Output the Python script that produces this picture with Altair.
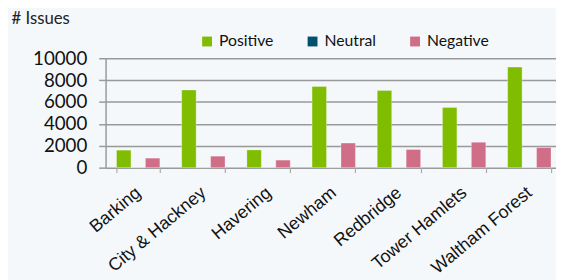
import altair as alt
import pandas as pd

categories = ["Barking", "City & Hackney", "Havering", "Newham", "Redbridge", "Tower Hamlets", "Waltham Forest"]
series = ["Positive", "Neutral", "Negative"]
positive = [1600, 7100, 1620, 7420, 7060, 5500, 9190]
neutral = [0, 0, 0, 0, 0, 0, 0]
negative = [870, 1050, 690, 2250, 1660, 2320, 1840]
colors = ["#80BC00", "#00506E", "#D06E88"]
y_ticks = [0, 2000, 4000, 6000, 8000, 10000]

rows = []
for s, vals in zip(series, [positive, neutral, negative]):
    for c, v in zip(categories, vals):
        rows.append({"Area": c, "Sentiment": s, "Issues": v})
df = pd.DataFrame(rows)

W = 457
STEP_RANGE = 463
H = 111

chart = alt.Chart(df).mark_bar(
    stroke="#ffffff", strokeWidth=0.6, strokeOpacity=0.5
).encode(
    x=alt.X(
        "Area:N",
        sort=categories,
        scale=alt.Scale(range=[0, STEP_RANGE], paddingInner=0.335, paddingOuter=0.1675),
        axis=alt.Axis(
            title=None,
            tickBand="extent",
            labelAngle=-40,
            labelAlign="right",
            labelBaseline="middle",
            labelFont="Liberation Sans",
            labelFontSize=18,
            labelColor="#111111",
            labelOverlap=False,
            labelBound=False,
            labelPadding=18,
            domain=False,
            ticks=True,
            tickSize=5,
            tickColor="#aaaaaa",
            tickWidth=1.2,
            grid=False,
        ),
    ),
    xOffset=alt.XOffset("Sentiment:N", sort=series, scale=alt.Scale(paddingInner=0, paddingOuter=0)),
    y=alt.Y(
        "Issues:Q",
        scale=alt.Scale(domain=[0, 10000], nice=False),
        axis=alt.Axis(
            title="# Issues",
            titleAngle=0,
            titleAlign="left",
            titleBaseline="alphabetic",
            titleX=-96,
            titleY=-35,
            titleFont="Lato",
            titleFontSize=17,
            titleFontWeight="normal",
            titleColor="#222222",
            values=y_ticks,
            format="d",
            labelFont="Lato",
            labelFontSize=19,
            labelColor="#111111",
            labelPadding=12,
            tickSize=7,
            tickColor="#999999",
            tickWidth=1.5,
            domain=True,
            domainColor="#999999",
            domainWidth=1.5,
            grid=True,
            gridColor="#999999",
            gridWidth=1.5,
        ),
    ),
    color=alt.Color(
        "Sentiment:N",
        sort=series,
        scale=alt.Scale(domain=series, range=colors),
        legend=alt.Legend(
            title=None,
            orient="none",
            direction="horizontal",
            legendX=95,
            legendY=-25,
            symbolType="square",
            symbolSize=100,
            symbolStrokeWidth=0,
            symbolOpacity=1,
            labelFont="Lato",
            labelFontSize=16,
            labelColor="#111111",
            labelOffset=4,
            columnPadding=31,
        ),
    ),
).properties(
    width=W,
    height=H,
    background="#F5F8FB",
    autosize=alt.AutoSizeParams(type="none"),
    padding={"left": 99, "top": 49, "right": 0, "bottom": 112},
).configure_view(stroke=None)

chart.save("out.html", embed_options={"renderer": "svg", "actions": False})
